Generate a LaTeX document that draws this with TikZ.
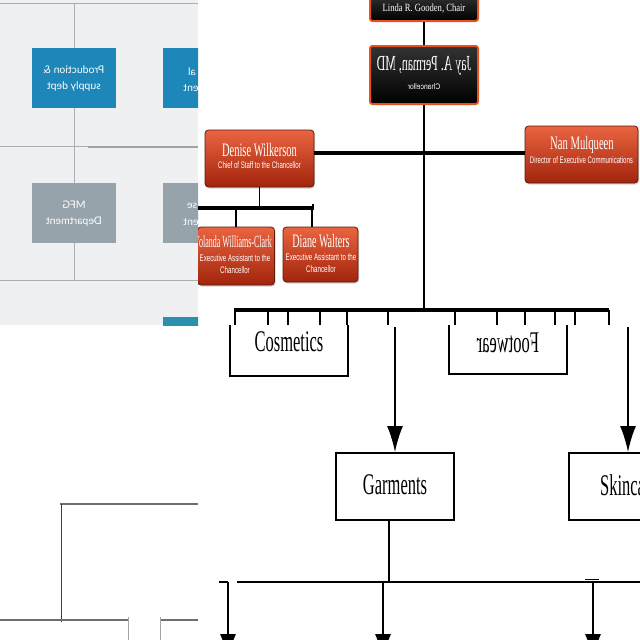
\documentclass[tikz,border=0pt]{standalone}
\usepackage{fontspec}
\setmainfont{Liberation Serif}
\newfontfamily\sansf{Liberation Sans}
\newfontfamily\latof{Lato}
\usetikzlibrary{arrows.meta,shadows}
\newcommand{\hsq}[2]{\scalebox{#1}[1]{#2}}
\newcommand{\fsz}[2]{\fontsize{#1}{#2}\selectfont}
\definecolor{panelBg}{HTML}{EEF0F1}
\definecolor{panelLine}{HTML}{A9AFB3}
\definecolor{panelLineB}{HTML}{9EA4A8}
\definecolor{blueC}{HTML}{1C87B8}
\definecolor{grayC}{HTML}{97A3AB}
\definecolor{tealC}{HTML}{2B8FAE}
\definecolor{redTop}{HTML}{EA6440}
\definecolor{redMid}{HTML}{D43F1C}
\definecolor{redBot}{HTML}{A2240C}
\definecolor{redEdge}{HTML}{5E1A0B}
\definecolor{orangeE}{HTML}{E8501E}
\definecolor{bl}{HTML}{6E6E6E}
\begin{document}
\begin{tikzpicture}[x=1pt,y=-1pt,
  txt/.style={inner sep=0pt, text=white},
  btxt/.style={inner sep=0pt, text=black},
  bluebox/.style={rectangle, fill=blueC, minimum width=84pt, minimum height=60pt, inner sep=0pt, text=white, align=center},
  graybox/.style={rectangle, fill=grayC, minimum width=84pt, minimum height=60pt, inner sep=0pt, text=white, align=center},
  blackbox/.style={rectangle, rounded corners=2.5pt, draw=orangeE, line width=2pt, top color=black!80, bottom color=black, inner sep=0pt},
  redbox/.style={rectangle, rounded corners=3.5pt, draw=redEdge, line width=0.8pt, top color=redTop, middle color=redMid, bottom color=redBot, inner sep=0pt, drop shadow={opacity=0.35, shadow xshift=1pt, shadow yshift=-1.5pt}},
  pline/.style={draw=panelLine, line width=1pt},
  conn/.style={line width=1.5pt, draw=black},
  bar/.style={line width=3.2pt, draw=black},
  tick/.style={line width=1.6pt, draw=black},
  arr/.style={line width=1.6pt, draw=black, -{Latex[length=26pt,width=16pt]}},
  dbox/.style={rectangle, draw=black, line width=2pt, minimum width=118pt, minimum height=67pt, inner sep=0pt},
  glines/.style={draw=bl, line width=2.6pt},
  gthin/.style={draw=black!75, line width=1pt}]
\useasboundingbox (0,0) rectangle (640,640);
\clip (0,0) rectangle (640,640);
\fill[white] (0,0) rectangle (640,640);

% ---------------- top-left panel ----------------
\begin{scope}
\clip (0,0) rectangle (198,325);
\fill[panelBg] (0,0) rectangle (198,325);
\coordinate (tlA) at (0,3);
\coordinate (tlB) at (198,3);
\coordinate (mlA) at (0,146);
\coordinate (mlB) at (198,146);
\coordinate (mlC) at (88,147);
\coordinate (mlD) at (198,147);
\coordinate (blA) at (0,280);
\coordinate (blB) at (198,280);
\node[bluebox] (prod) at (74,78) {\latof\fsz{10.5}{16}\hsq{-1}{\begin{tabular}{@{}c@{}}Production \&\\supply dept\end{tabular}}};
\node[bluebox] (tech) at (205,78) {};
\node[txt] (techA) at (192,72) {\latof\fsz{10.5}{16}\hsq{-1}{al}};
\node[txt] (techB) at (191,88) {\latof\fsz{10.5}{16}\hsq{-1}{ent}};
\node[graybox] (mfg) at (74,213) {\latof\fsz{10.5}{16}\hsq{-1}{\begin{tabular}{@{}c@{}}MFG\\Department\end{tabular}}};
\node[graybox] (ware) at (205,213) {};
\node[txt] (wareA) at (192,206) {\latof\fsz{10.5}{16}\hsq{-1}{se}};
\node[txt] (wareB) at (191,222) {\latof\fsz{10.5}{16}\hsq{-1}{ent}};
\node[rectangle, fill=tealC, minimum width=84pt, minimum height=20pt, inner sep=0pt] (teal) at (205,327) {};
\draw[pline] (tlA) -- (tlB);
\draw[pline] (prod.north |- tlA) -- (prod.north);
\draw[pline] (prod.south) -- (mfg.north);
\draw[pline] (mlA) -- (mlB);
\draw[draw=panelLineB, line width=2.5pt] (mlC) -- (mlD);
\draw[pline] (mfg.south) -- (mfg.south |- blA);
\draw[pline] (blA) -- (blB);
\end{scope}

% ---------------- bottom-left panel ----------------
\coordinate (q1) at (60,504);
\coordinate (q2) at (198,504);
\coordinate (q3) at (61,504);
\coordinate (q4) at (61,622);
\coordinate (q5) at (0,620);
\coordinate (q6) at (128,620);
\coordinate (q7) at (160,620);
\coordinate (q8) at (198,620);
\coordinate (q9) at (128,617);
\coordinate (q10) at (128,640);
\coordinate (q11) at (160,617);
\coordinate (q12) at (160,640);
\draw[glines] (q1) -- (q2);
\draw[gthin] (q3) -- (q4);
\draw[glines] (q5) -- (q6);
\draw[glines] (q7) -- (q8);
\draw[draw=black!35, line width=0.7pt] (q9) -- (q10);
\draw[draw=black!35, line width=0.7pt] (q11) -- (q12);

% ---------------- top-right panel ----------------
\begin{scope}
\clip (198,-10) rectangle (650,650);
\node[blackbox, minimum width=108pt, minimum height=27pt] (linda) at (424,7.5) {};
\node[txt] (lindaT) at (424,9) {\fsz{11}{11}\hsq{0.78}{Linda R. Gooden, Chair}};
\node[blackbox, minimum width=108pt, minimum height=58pt] (jay) at (424,75) {};
\node[txt] (jayT) at (424,66) {\fsz{21.5}{22}\hsq{-0.55}{Jay A. Perman, MD}};
\node[txt] (jayS) at (424,87) {\sansf\fsz{8}{8}\hsq{-0.85}{Chancellor}};
\draw[conn] (linda.south) -- (jay.north);

\coordinate (hb) at (0,153);
\coordinate (sbL) at (198,208);
\coordinate (sbR) at (314,208);
\coordinate (tbL) at (234,310);
\coordinate (tbR) at (609,310);
\draw[conn] (jay.south) -- (jay.south |- tbL);

\node[redbox, minimum width=109pt, minimum height=57pt] (denise) at (259.5,158.5) {};
\node[txt] (deniseT) at (259.5,150) {\fsz{19}{19}\hsq{0.55}{Denise Wilkerson}};
\node[txt] (deniseS) at (259.5,165) {\sansf\fsz{9.5}{9.5}\hsq{0.64}{Chief of Staff to the Chancellor}};

\node[redbox, minimum width=113pt, minimum height=57pt] (nan) at (581.5,154.5) {};
\node[txt] (nanT) at (582,145) {\fsz{19}{19}\hsq{0.56}{Nan Mulqueen}};
\node[txt] (nanS) at (581.5,160) {\sansf\fsz{9.5}{9.5}\hsq{0.64}{Director of Executive Communications}};

\draw[bar] (denise.east |- hb) -- (nan.west |- hb);
\draw[conn] (denise.south) -- (denise.south |- sbL);
\draw[line width=3.6pt] (sbL) -- (sbR);
\draw[line width=1.5pt] (313,204) -- (313,210);

\node[redbox, minimum width=77pt, minimum height=58pt] (yolanda) at (236,256) {};
\node[txt] (yolandaT) at (233,242) {\fsz{17}{17}\hsq{0.47}{Yolanda Williams-Clark}};
\node[txt] (yolandaS1) at (235,258) {\sansf\fsz{9.5}{9.5}\hsq{0.65}{Executive Assistant to the}};
\node[txt] (yolandaS2) at (235,270) {\sansf\fsz{9.5}{9.5}\hsq{0.65}{Chancellor}};

\node[redbox, minimum width=75pt, minimum height=55pt] (diane) at (320.5,254.5) {};
\node[txt] (dianeT) at (321,241) {\fsz{19}{19}\hsq{0.53}{Diane Walters}};
\node[txt] (dianeS1) at (321,257) {\sansf\fsz{9.5}{9.5}\hsq{0.65}{Executive Assistant to the}};
\node[txt] (dianeS2) at (321,269) {\sansf\fsz{9.5}{9.5}\hsq{0.65}{Chancellor}};

\draw[tick] (yolanda.north |- sbL) -- (yolanda.north);
\draw[tick] (312,208) -- (diane.north -| 312,0);
\end{scope}

% ---------------- bottom-right panel ----------------
\draw[bar] (tbL) -- (tbR);
\foreach \tx in {235,268,288,320,347,388,455,497,525,555,575,609}
  \draw[tick] (\tx,310) -- (\tx,325);

% Cosmetics (open top)
\node[rectangle, minimum width=118pt, minimum height=51pt, inner sep=0pt] (cosm) at (289,350.5) {};
\draw[line width=2pt] (cosm.north west) -- (cosm.south west) -- (cosm.south east) -- (cosm.north east);
\node[btxt] (cosmT) at (289,342) {\fsz{30}{30}\hsq{0.55}{Cosmetics}};
% Footwear (mirrored, open top)
\node[rectangle, minimum width=118pt, minimum height=49pt, inner sep=0pt] (foot) at (508,349.5) {};
\draw[line width=2pt] (foot.north west) -- (foot.south west) -- (foot.south east) -- (foot.north east);
\node[btxt] (footT) at (508,343) {\fsz{30}{30}\hsq{-0.55}{Footwear}};

\coordinate (a1) at (395,327);
\coordinate (a2) at (628,327);
\node[dbox] (garm) at (395,486.5) {};
\node[btxt] (garmT) at (395,485) {\fsz{30}{30}\hsq{0.55}{Garments}};
\node[dbox] (skin) at (628,486.5) {};
\node[btxt] (skinT) at (629,485) {\fsz{30}{30}\hsq{0.55}{Skincare}};
\draw[arr] (a1) -- (garm.north);
\draw[arr] (a2) -- (skin.north);

\coordinate (bbL) at (237,582);
\coordinate (bbR) at (645,582);
\coordinate (bsL) at (219,582);
\coordinate (bsR) at (228,582);
\coordinate (d1) at (228,660);
\coordinate (d2) at (383,660);
\coordinate (d3) at (593,660);
\coordinate (d2t) at (383,582);
\coordinate (d3t) at (593,582);
\draw[conn] (garm.south -| 389,0) -- (389,582);
\draw[line width=2.6pt] (bbL) -- (bbR);
\draw[line width=2.6pt] (bsL) -- (bsR);
\draw[line width=1pt] (585,579.5) -- (599,579.5);
\draw[arr] (bsR) -- (d1);
\draw[arr] (d2t) -- (d2);
\draw[arr] (d3t) -- (d3);
\end{tikzpicture}
\end{document}
